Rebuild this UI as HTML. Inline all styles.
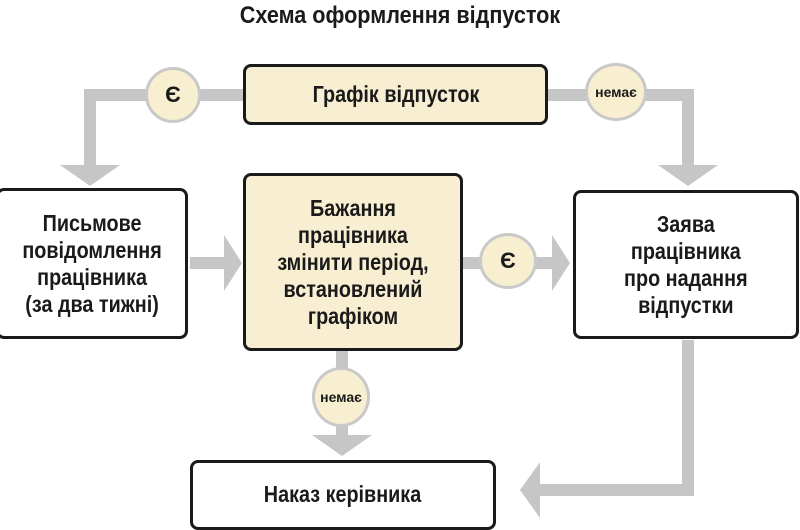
<!DOCTYPE html>
<html><head><meta charset="utf-8"><style>
body{margin:0;width:800px;height:521px;background:#fff;overflow:hidden;position:relative;font-family:"Liberation Sans","DejaVu Sans",sans-serif;}
.b{position:absolute;border:3px solid #1a1a1a;border-radius:8px;box-sizing:border-box;display:flex;align-items:center;justify-content:center;text-align:center;font-weight:bold;font-size:23px;line-height:27px;color:#1a1a1a;}
.b span{display:inline-block;transform:scaleX(0.86);white-space:nowrap}
.y{background:#f8eed2;}
.c{position:absolute;border-radius:50%;background:#f7efd0;border:3px solid #c9c9c9;box-sizing:border-box;display:flex;align-items:center;justify-content:center;font-weight:bold;color:#1a1a1a;}
svg{position:absolute;left:0;top:0}
</style></head><body>
<svg width="800" height="521">
<g stroke="#c6c6c6" stroke-width="12" fill="none">
<path d="M243 95 H90 V168"/>
<path d="M547 95 H688 V168"/>
<path d="M190 263 H226"/>
<path d="M462 263 H554"/>
<path d="M342 350 V438"/>
<path d="M688 340 V490 H528"/>
</g>
<g fill="#c6c6c6">
<polygon points="60,165 120,165 90,186"/>
<polygon points="658,165 718,165 688,186"/>
<polygon points="224,235 224,291 242,263"/>
<polygon points="552,235 552,291 570,263"/>
<polygon points="312,435 372,435 342,456"/>
<polygon points="540,462 540,518 520,490"/>
</g>
</svg>
<div style="position:absolute;left:0;width:800px;top:2px;text-align:center;font-weight:bold;font-size:24px;color:#1a1a1a"><span style="display:inline-block;transform:scaleX(0.9)">Схема оформлення відпусток</span></div>
<div class="b y" style="left:243px;top:64px;width:305px;height:61px"><span>Графік відпусток</span></div>
<div class="b" style="left:-4px;top:188px;width:192px;height:151px"><span>Письмове<br>повідомлення<br>працівника<br>(за два тижні)</span></div>
<div class="b y" style="left:243px;top:173px;width:220px;height:178px"><span>Бажання<br>працівника<br>змінити період,<br>встановлений<br>графіком</span></div>
<div class="b" style="left:573px;top:190px;width:226px;height:149px"><span>Заява<br>працівника<br>про надання<br>відпустки</span></div>
<div class="b" style="left:190px;top:460px;width:306px;height:70px;align-items:flex-start;padding-top:18px"><span>Наказ керівника</span></div>
<div class="c" style="left:145px;top:67px;width:56px;height:56px;font-size:22px">Є</div>
<div class="c" style="left:585px;top:63px;width:62px;height:58px;font-size:14px">немає</div>
<div class="c" style="left:479px;top:233px;width:58px;height:56px;font-size:22px">Є</div>
<div class="c" style="left:312px;top:367px;width:58px;height:60px;font-size:14px">немає</div>
</body></html>
